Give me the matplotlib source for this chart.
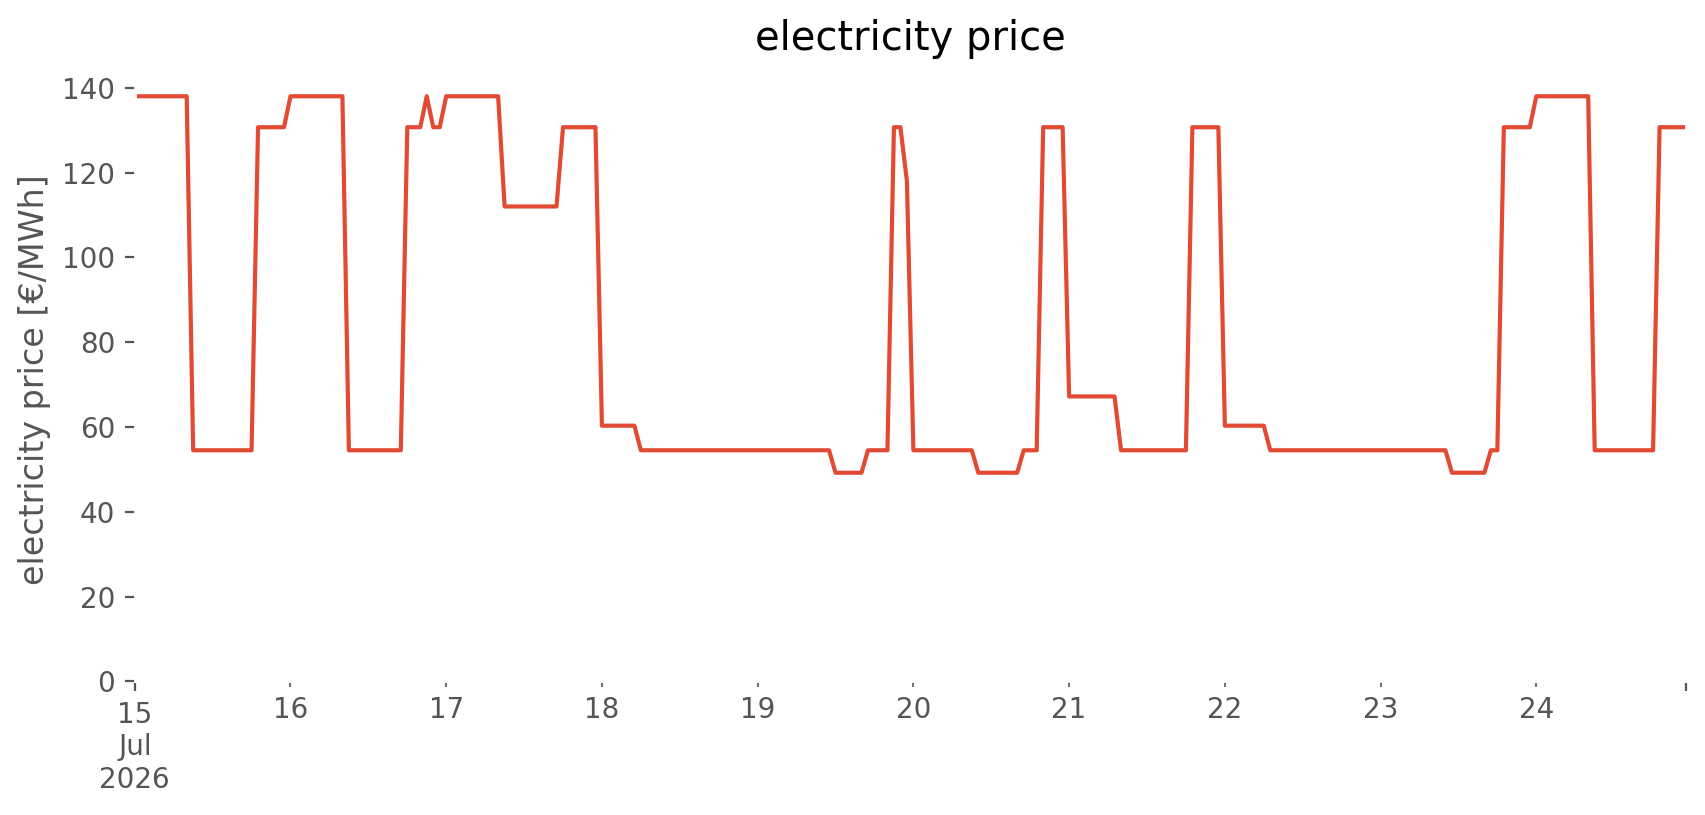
import matplotlib
matplotlib.use("Agg")
import matplotlib.pyplot as plt
import pandas as pd

plt.style.use("ggplot")

# hourly prices [EUR/MWh], one row per day, 15 Jul 2026 .. 24 Jul 2026
day15 = [138.0]*9 + [54.5]*10 + [130.7]*5
day16 = [138.0]*9 + [54.5]*9 + [130.7]*3 + [138.0] + [130.7]*2
day17 = [138.0]*9 + [112.0]*9 + [130.7]*6
day18 = [60.3]*6 + [54.5]*18
day19 = [54.5]*12 + [49.2]*5 + [54.5]*4 + [130.7]*2 + [118.0]
day20 = [54.5]*10 + [49.2]*7 + [54.5]*3 + [130.7]*4
day21 = [67.2]*8 + [54.5]*11 + [130.7]*5
day22 = [60.3]*7 + [54.5]*17
day23 = [54.5]*11 + [49.2]*6 + [54.5]*2 + [130.7]*5
day24 = [138.0]*9 + [54.5]*10 + [130.7]*5

prices = day15 + day16 + day17 + day18 + day19 + day20 + day21 + day22 + day23 + day24
index = pd.date_range("2026-07-15 00:00", periods=len(prices), freq="h")
price = pd.Series(prices, index=index, name="electricity price")

fig, ax = plt.subplots(figsize=(8.53, 4.075), dpi=200)
fig.subplots_adjust(left=0.079, right=0.988, bottom=0.164, top=0.905)
ax.set_facecolor("white")

price.plot(ax=ax, color="#E24A33", linewidth=1.5)
ax.set_ylim(bottom=0)
ax.set_xlabel("")
ax.set_ylabel("electricity price [€/MWh]")
ax.set_title("electricity price", pad=10)

fig.savefig("out.png", dpi=200)
